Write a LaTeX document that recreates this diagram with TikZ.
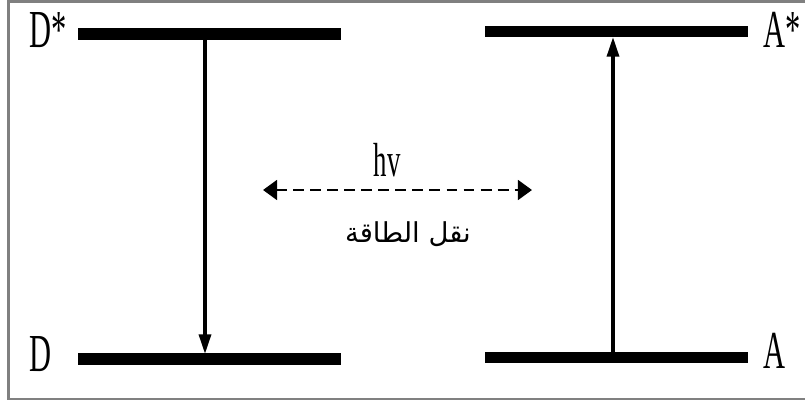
\documentclass[tikz,border=0pt]{standalone}
\usepackage{fontspec}
\setmainfont{Liberation Serif}
\newfontfamily\arabicfont[Script=Arabic]{DejaVu Sans}
\TeXXeTstate=1
\usetikzlibrary{arrows.meta}

\begin{document}
\begin{tikzpicture}[x=0.025cm, y=-0.025cm,
    level/.style={line width=8.5pt},
    trans/.style={line width=2.4pt, -{Triangle[length=14pt, width=8.5pt]}},
    transfer/.style={line width=2pt, dash pattern=on 7.8pt off 4.3pt,
        {Triangle[length=10pt, width=14pt]}-{Triangle[length=10pt, width=14pt]}},
    state/.style={font=\fontsize{38}{38}\selectfont, xscale=0.57, inner sep=0pt, anchor=base west}
]
    \useasboundingbox (0,0) rectangle (805,401);
    \draw[gray, line width=2pt] (8.5,1.5) rectangle (830,399);

    % energy levels
    \draw[level] (78,34) -- (341,34);
    \draw[level] (78,359) -- (341,359);
    \draw[level] (485,31.5) -- (748,31.5);
    \draw[level] (485,357.5) -- (748,357.5);

    \node[state] (Dst) at (29,48) {D*};
    \node[state] (D) at (29,371) {D};
    \node[state] (Ast) at (763,48) {A*};
    \node[state] (A) at (763,368) {A};

    % arrow ends on the levels
    \coordinate (d1) at (205,39);
    \coordinate (d2) at (205,354);
    \coordinate (a1) at (613,352);
    \coordinate (a2) at (613,37);
    \draw[trans] (d1) -- (d2);
    \draw[trans] (a1) -- (a2);

    % energy transfer
    \coordinate (t1) at (263,190);
    \coordinate (t2) at (532,190);
    \draw[transfer] (t1) -- (t2);
    \node[font=\fontsize{34}{34}\selectfont, xscale=0.56, inner sep=0pt, anchor=base] (hv) at (387,176) {hv};
    \node[font=\fontsize{19.5}{19.5}\selectfont] (et) at (408,234) {\arabicfont\beginR نقل الطاقة\endR};
\end{tikzpicture}
\end{document}
